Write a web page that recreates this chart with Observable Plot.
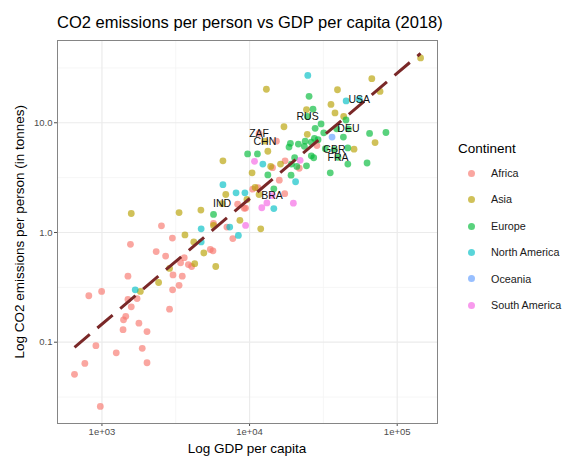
<!DOCTYPE html>
<html><head><meta charset="utf-8">
<script src="https://cdn.jsdelivr.net/npm/d3@7"></script>
<script src="https://cdn.jsdelivr.net/npm/@observablehq/plot@0.6"></script>
<style>
body{margin:0;background:#fff;font-family:"Liberation Sans",Arial,sans-serif;}
#wrap{position:relative;width:572px;height:465px;overflow:hidden;background:#fff;}
#wrap svg{position:absolute;left:0;top:0;}
.abs{position:absolute;white-space:nowrap;line-height:1;}
#title{left:57px;top:14px;font-size:16.5px;color:#000;}
#xlab{left:57px;width:380px;top:441.5px;text-align:center;font-size:13.5px;color:#000;}
#ylab{left:-172.5px;width:383px;top:224.75px;text-align:center;font-size:13.5px;color:#000;transform:rotate(-90deg);transform-origin:50% 50%;}
#legtitle{left:458px;top:141.5px;font-size:13.5px;color:#000;}
.sw{position:absolute;width:7px;height:7px;border-radius:50%;}
.lt{position:absolute;font-size:10.8px;line-height:1;color:#1a1a1a;white-space:nowrap;}
</style></head>
<body><div id="wrap">
<div id="title" class="abs">CO2 emissions per person vs GDP per capita (2018)</div>
<div id="xlab" class="abs">Log GDP per capita</div>
<div id="ylab" class="abs">Log CO2 emissions per person (in tonnes)</div>
<div id="legtitle" class="abs">Continent</div>
</div>
<script>
// [GDP per capita, CO2 tonnes per person, optional ISO code]
const africa = [
  [3000,0.89],[1560,0.78],[7700,0.88],[2330,0.67],[2700,0.61],[5420,0.70],[5650,0.68],[3610,0.59],
  [3410,0.53],[4050,0.49],[3850,0.51],[1500,0.40],[3030,0.41],[3500,0.40],[3330,0.33],[3010,0.30],
  [815,0.265],[995,0.29],[1500,0.245],[1730,0.25],[1580,0.21],[2870,0.20],[1450,0.172],[1400,0.16],
  [1780,0.149],[1390,0.13],[2020,0.125],[910,0.093],[1875,0.088],[1250,0.080],[766,0.064],[2020,0.065],
  [652,0.051],[975,0.026],[2530,1.15],[8300,1.81],[9200,1.66],[5700,1.21],[7020,1.12],
  [11600,8.0,"ZAF"],[15200,6.8],[28600,6.2],[14300,3.9],[17400,4.5],[21700,3.85],[15900,3.0],
  [10500,2.48],[17300,2.26],[11400,2.56],[9400,1.67]
];
const asia = [
  [144000,39],[13000,20.2],[67300,25.2],[39400,20],[76500,19.3],[35600,14.7],[24300,13.2],[37900,12.3],
  [43400,11.4],[17100,9.2],[24600,7.85],[70800,6.6],[51000,5.75],[12700,6.8,"CHN"],[13300,5.5],[13900,4.0],
  [16200,4.2],[10400,3.5],[10900,2.57],[11600,2.22],[9600,2.0],[8600,1.29],[11900,1.08],[6600,4.5],
  [6900,2.22],[1580,1.49],[3330,1.52],[4680,1.6],[5700,1.16],[3650,0.95],[4190,0.82],[4900,0.65],
  [5900,0.49],[2870,0.47],[4250,0.52],[2420,0.35],[1820,0.29],[6510,1.83,"IND"]
];
const europe = [
  [25300,17.4],[26900,13.3],[45000,10.6],[30500,9.75],[27800,8.9],[24700,11.4,"RUS"],[46700,8.8,"DEU"],
  [38900,8.8],[43200,7.4],[65000,8.0],[83900,8.15],[31800,8.1],[27500,7.2],[29100,7.0],[26200,6.65],
  [23800,6.8],[23500,6.1],[32600,5.8],[46300,5.9],[37500,5.7,"GBR"],[39700,4.85,"FRA"],[46300,4.2],
  [62500,4.3],[35200,3.5],[26200,5.0],[27200,4.8],[24300,4.05],[18900,6.5],[18500,6.0],[21400,6.4],
  [9700,5.2],[11300,5.2],[20200,4.8],[19200,4.2],[20900,4.0],[13300,3.35],[19100,3.33],[14600,2.5],[5700,1.46]
];
const northAmerica = [
  [24800,27],[45100,15.8],[55400,16.3,"USA"],[12300,4.2],[20500,2.9],[8100,2.3],[9300,2.3],[14600,1.65],
  [6600,2.73],[4700,1.08],[7340,1.12],[8400,0.94],[4700,0.82],[1680,0.30]
];
const oceania = [[36200,7.4]];
const southAmerica = [
  [10800,4.45],[22000,4.55],[14200,2.17,"BRA"],[13100,1.86],[12100,1.68],[19800,1.85],[9400,1.16]
];

const continents = ["Africa","Asia","Europe","North America","Oceania","South America"];
const palette = ["#F8766D","#B79F00","#00BA38","#00BFC4","#619CFF","#F564E3"];
const xTicks = [1e3, 1e4, 1e5];
const xTickLabels = ["1e+03","1e+04","1e+05"];
const xMinor = [Math.pow(10,3.5), Math.pow(10,4.5)];
const yTicks = [0.1, 1, 10];
const yTickLabels = ["0.1","1.0","10.0"];
const yMinor = [Math.pow(10,-1.5), Math.pow(10,-0.5), Math.pow(10,0.5), Math.pow(10,1.5)];

const groups = [africa, asia, europe, northAmerica, oceania, southAmerica];
const rows = groups.flatMap((arr, i) => arr.map(([gdp, co2, code]) => ({continent: continents[i], gdp, co2, code})));

// least squares fit in log-log space (like geom_smooth(method="lm") on log axes)
const lx = rows.map(d => Math.log10(d.gdp)), ly = rows.map(d => Math.log10(d.co2));
const mx = d3.mean(lx), my = d3.mean(ly);
const slope = d3.sum(lx.map((v, i) => (v - mx) * (ly[i] - my))) / d3.sum(lx.map(v => (v - mx) ** 2));
const intercept = my - slope * mx;
const [gmin, gmax] = d3.extent(rows, d => d.gdp);
const trend = [gmin, gmax].map(g => ({gdp: g, co2: Math.pow(10, intercept + slope * Math.log10(g))}));

const chart = Plot.plot({
  width: 572, height: 465,
  marginLeft: 57, marginRight: 135, marginTop: 40, marginBottom: 42,
  style: {fontFamily: "Liberation Sans, Arial, sans-serif", fontSize: "9.5px", color: "#4d4d4d", background: "transparent"},
  x: {type: "log", domain: [500, 187500]},
  y: {type: "log", domain: [0.01816, 56.2]},
  color: {domain: continents, range: palette},
  marks: [
    Plot.ruleX(xMinor, {stroke: "#f4f4f4", strokeWidth: 0.8}),
    Plot.ruleY(yMinor, {stroke: "#f4f4f4", strokeWidth: 0.8}),
    Plot.ruleX(xTicks, {stroke: "#ebebeb", strokeWidth: 1.2}),
    Plot.ruleY(yTicks, {stroke: "#ebebeb", strokeWidth: 1.2}),
    Plot.axisX({ticks: xTicks, tickFormat: d => xTickLabels[xTicks.indexOf(d)], tickSize: 3, tickPadding: 2, label: null}),
    Plot.axisY({ticks: yTicks, tickFormat: d => yTickLabels[yTicks.indexOf(d)], tickSize: 3, tickPadding: 2, label: null}),
    Plot.dot(rows, {x: "gdp", y: "co2", fill: "continent", r: 3.4, fillOpacity: 0.65}),
    Plot.line(trend, {x: "gdp", y: "co2", stroke: "#7a2828", strokeWidth: 3, strokeDasharray: "20,10", strokeLinecap: "butt"}),
    Plot.text(rows.filter(d => d.code), {x: "gdp", y: "co2", text: "code", fill: "#111", fontSize: 10.5}),
    Plot.frame({stroke: "#858585"})
  ]
});
const wrap = document.getElementById("wrap");
wrap.insertBefore(chart, wrap.firstChild);

// legend
continents.forEach((c, i) => {
  const cy = 173.3 + i * 26.4;
  const sw = document.createElement("div");
  sw.className = "sw";
  sw.style.left = (471 - 3.5) + "px";
  sw.style.top = (cy - 3.5) + "px";
  sw.style.background = palette[i];
  sw.style.opacity = 0.65;
  wrap.appendChild(sw);
  const t = document.createElement("div");
  t.className = "lt";
  t.textContent = c;
  t.style.left = "491px";
  t.style.top = (cy - 5.4) + "px";
  wrap.appendChild(t);
});
</script>
</body></html>
